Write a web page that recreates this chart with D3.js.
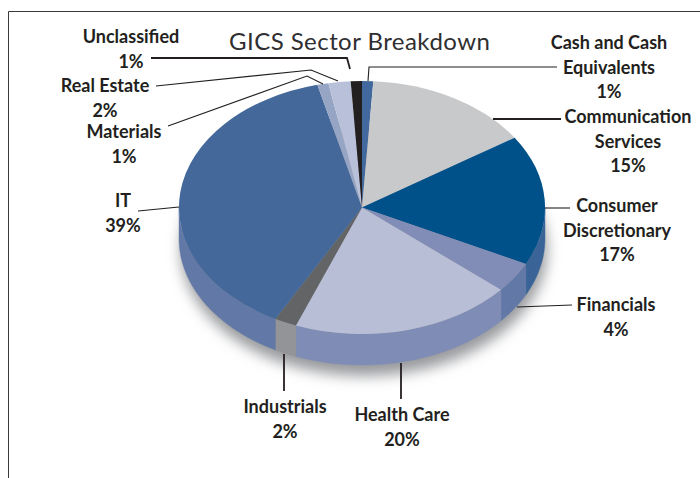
<!DOCTYPE html>
<html>
<head>
<meta charset="utf-8">
<script src="https://cdn.jsdelivr.net/npm/d3@7"></script>
<style>
  html, body { margin: 0; padding: 0; background: #fff; }
  svg { display: block; }
  .label { font-family: Lato, "Open Sans", sans-serif; font-weight: 700; font-size: 18px; fill: #231f20; text-anchor: middle; }
  .title { font-family: Lato, "Open Sans", sans-serif; font-weight: 400; font-size: 24px; fill: #2f2e30; letter-spacing: 0.45px; }
</style>
</head>
<body>
<div class="d3Chart"></div>
<script>
// data, clockwise from 12 o'clock
var sectors = ["Cash and Cash Equivalents", "Communication Services", "Consumer Discretionary", "Financials", "Health Care", "Industrials", "IT", "Materials", "Real Estate", "Unclassified"];
var values = [1, 15, 17, 4, 20, 2, 39, 1, 2, 1];
var topColors = ["#41699d", "#c8c9cb", "#00508a", "#818db6", "#b8bed6", "#636466", "#44689a", "#97a5c5", "#b9c1da", "#231f20"];
var wallColors = ["#41699d", "#c8c9cb", "#3a6498", "#6278a6", "#7f8db6", "#929497", "#6278a6", "#97a5c5", "#b9c1da", "#231f20"];

// 标签排版
var labelLines = [
  ["Cash and Cash", "Equivalents", "1%"],
  ["Communication", "Services", "15%"],
  ["Consumer", "Discretionary", "17%"],
  ["Financials", "4%"],
  ["Health Care", "20%"],
  ["Industrials", "2%"],
  ["IT", "39%"],
  ["Materials", "1%"],
  ["Real Estate", "2%"],
  ["Unclassified", "1%"],
];
var labelX = [609, 628, 617, 616, 402, 285, 123, 124, 105, 131];
var labelY = [49, 123, 212, 311, 421, 413, 207, 138, 92, 43];
var lineGap = 24.7;
var leaders = [
  [[368, 81], [369, 67], [557, 67]],
  [[493, 119], [561, 119]],
  [[545, 208], [570, 208]],
  [[517, 307], [572, 305]],
  [[401, 363], [401, 399]],
  [[284, 354], [284, 391]],
  [[138, 211], [179, 207]],
  [[168, 126], [307, 76], [323, 84]],
  [[156, 86], [311, 70], [338, 81]],
  [[151, 58], [347, 58], [350, 69]],
];
var leaderWidths = [1.1, 1.8, 1.1, 1.1, 1.8, 1.8, 1.1, 1.1, 1.1, 1.8];

var width = 700;
var height = 478;
var svg = d3
  .select(".d3Chart")
  .append("svg")
  .attr("width", width)
  .attr("height", height);

// 饼的椭圆比例尺
var xScale = d3.scaleLinear().domain([-1, 1]).range([179, 545]);
var yScale = d3.scaleLinear().domain([-1, 1]).range([81, 334]);
var depth = 31;
var rx = (xScale(1) - xScale(-1)) / 2;
var ry = (yScale(1) - yScale(-1)) / 2;

var drawData = d3.pie().sort(null).value((d) => d)(values);

// 边框
svg.append("path")
  .attr("d", "M8.5,478V11.5H700")
  .attr("fill", "none")
  .attr("stroke", "#3a3a3c")
  .attr("stroke-width", 1);

// 阴影
var blur = svg.append("defs").append("filter")
  .attr("id", "shadow")
  .attr("x", "-20%").attr("y", "-20%").attr("width", "140%").attr("height", "140%");
blur.append("feGaussianBlur").attr("stdDeviation", 7);
svg.append("ellipse")
  .attr("cx", xScale(0) + 2)
  .attr("cy", yScale(0) + depth + 11)
  .attr("rx", rx)
  .attr("ry", ry)
  .attr("fill", "#97999c")
  .attr("filter", "url(#shadow)");

// 侧面，只画朝前的半圈
var wall = d3.area()
  .x((a) => xScale(Math.sin(a)))
  .y0((a) => yScale(-Math.cos(a)))
  .y1((a) => yScale(-Math.cos(a)) + depth);

function wallAngles(d) {
  var a0 = Math.max(d.startAngle, Math.PI / 2);
  var a1 = Math.min(d.endAngle, Math.PI * 1.5);
  if (a1 <= a0) return [];
  return d3.range(a0, a1, 0.01).concat([a1]);
}

svg.append("g").selectAll("path")
  .data(drawData)
  .enter()
  .append("path")
  .attr("d", (d) => wall(wallAngles(d)))
  .attr("fill", (d, i) => wallColors[i])
  .attr("stroke", (d, i) => wallColors[i])
  .attr("stroke-width", 0.4);

// 顶面
var arc = d3.arc().innerRadius(0).outerRadius(1);
svg.append("g")
  .attr("transform", `translate(${xScale(0)},${yScale(0)}) scale(${rx},${ry})`)
  .selectAll("path")
  .data(drawData)
  .enter()
  .append("path")
  .attr("d", arc)
  .attr("fill", (d, i) => topColors[i]);

// 引线
var leaderLine = d3.line();
svg.append("g").selectAll("path")
  .data(leaders)
  .enter()
  .append("path")
  .attr("d", leaderLine)
  .attr("fill", "none")
  .attr("stroke", "#231f20")
  .attr("stroke-width", (d, i) => leaderWidths[i]);

// 文本
svg.append("text")
  .attr("class", "title")
  .attr("x", 229)
  .attr("y", 50)
  .text("GICS Sector Breakdown");

var labels = svg.append("g").selectAll("text")
  .data(sectors)
  .enter()
  .append("text")
  .attr("class", "label")
  .attr("aria-label", (d) => d);

labels.selectAll("tspan")
  .data((d, i) => labelLines[i].map((t, j) => ({ t: t, j: j, i: i })))
  .enter()
  .append("tspan")
  .attr("x", (d) => labelX[d.i])
  .attr("y", (d) => labelY[d.i] + d.j * lineGap)
  .text((d) => d.t);
</script>
</body>
</html>
